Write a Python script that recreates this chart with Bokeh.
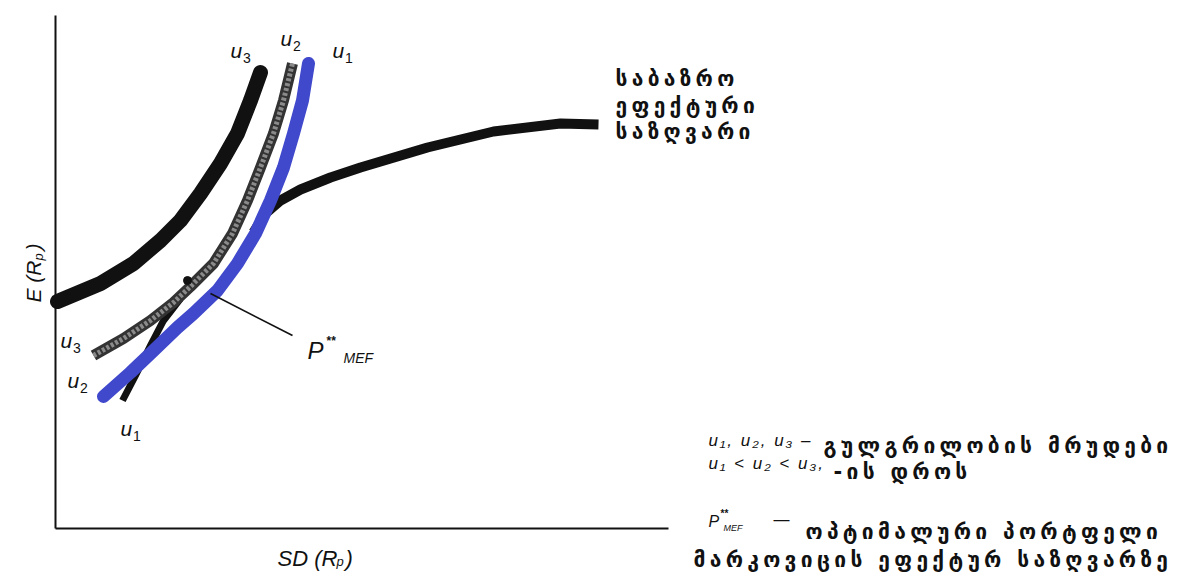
import math
from bokeh.plotting import figure
from bokeh.models import Range1d, InlineStyleSheet
from bokeh.layouts import column
from bokeh.core.properties import value
from bokeh.embed import file_html
from bokeh.resources import INLINE

# Standard deviation (SD) and expected return E of each curve
u3_sd = [0.04, 0.90, 1.56, 2.10, 2.50, 2.90, 3.30, 3.64, 3.90, 4.10]
u3_e = [4.54, 4.90, 5.30, 5.76, 6.16, 6.70, 7.30, 7.90, 8.56, 9.12]

u2_sd = [0.76, 1.36, 1.90, 2.36, 2.70, 3.16, 3.54, 3.84, 4.10, 4.36, 4.56, 4.74]
u2_e = [3.46, 3.80, 4.16, 4.52, 4.84, 5.30, 5.90, 6.56, 7.22, 7.90, 8.56, 9.30]

u1_sd = [0.96, 1.50, 1.90, 2.44, 2.76, 3.24, 3.64, 4.00, 4.30, 4.56, 4.76, 4.94, 5.06]
u1_e = [2.64, 3.12, 3.50, 4.02, 4.30, 4.76, 5.30, 5.90, 6.56, 7.22, 7.90, 8.56, 9.30]

# lower part of the original u1 curve, visible below the highlighted one
u1_tail_sd = [1.34, 1.60, 1.90, 2.16, 2.50]
u1_tail_e = [2.56, 3.06, 3.66, 4.16, 4.60]

# Markowitz efficient frontier
mef_sd = [3.96, 4.20, 4.50, 4.90, 5.50, 6.10, 7.44, 8.76, 10.10, 10.86]
mef_e = [5.92, 6.30, 6.56, 6.78, 7.02, 7.22, 7.62, 7.94, 8.10, 8.08]

# point marked on u2 and the leader line to the P**MEF label
mark_sd, mark_e = [2.64], [4.96]
leader_sd = [3.10, 4.74]
leader_e = [4.70, 3.86]

axis_sd_max = 12.26
axis_e_max = 10.26

frontier_title = ["საბაზრო", "ეფექტური", "საზღვარი"]
legend_lines = ["გულგრილობის მრუდები", "-ის დროს",
                "ოპტიმალური პორტფელი", "მარკოვიცის ეფექტურ საზღვარზე"]

BLUE = "#4048cc"
INK = "#111111"
X_RANGE = Range1d(-1.1, 22.52)
Y_RANGE = Range1d(-0.88, 10.56)


def blank_figure():
    f = figure(width=1181, height=572, output_backend="svg", toolbar_location=None,
               x_range=X_RANGE, y_range=Y_RANGE, min_border=0)
    f.axis.visible = False
    f.grid.visible = False
    f.outline_line_color = None
    return f


def overlay(spacing):
    """Transparent layer stacked on the chart, its texts set with extra tracking."""
    f = blank_figure()
    f.background_fill_alpha = 0
    f.border_fill_alpha = 0
    f.css_classes = ["overlay"]
    f.stylesheets = [InlineStyleSheet(css=(
        ":host { position: absolute !important; left: 0 !important; top: 0 !important;"
        f" letter-spacing: {spacing}px; }}"))]
    return f


def label(f, x, y, s, size, font="Liberation Sans", style="italic", align="left",
          baseline="alphabetic", angle=0.0, color=INK):
    f.text(x=[x], y=[y], text=[s], text_font=value(font), text_font_size=size,
           text_font_style=style, text_align=align, text_baseline=baseline,
           angle=angle, text_color=color)


p = blank_figure()
p.background_fill_color = "white"
p.border_fill_color = "white"

# axes
p.line([0, 0], [0, axis_e_max], line_color=INK, line_width=2)
p.line([0, axis_sd_max], [0, 0], line_color=INK, line_width=2)

# curves
p.line(u3_sd, u3_e, line_color=INK, line_width=15, line_cap="round", line_join="round")
p.line(mef_sd, mef_e, line_color=INK, line_width=10, line_cap="butt", line_join="round")
p.line(u1_tail_sd, u1_tail_e, line_color=INK, line_width=7, line_cap="butt", line_join="round")
p.line(u2_sd, u2_e, line_color="#333333", line_width=11, line_cap="butt", line_join="round")
p.line(u2_sd, u2_e, line_color="#9a9a9a", line_width=5, line_dash="3 2",
       line_cap="butt", line_join="round", line_alpha=0.85)
p.line(u1_sd, u1_e, line_color=BLUE, line_width=13, line_cap="round", line_join="round")
p.scatter(mark_sd, mark_e, size=8, color=INK)
p.line(leader_sd, leader_e, line_color=INK, line_width=1.6)

# curve names with subscripts
for (lx, ly), idx in [
    ((3.50, 9.56), "3"),
    ((4.50, 9.80), "2"),
    ((5.54, 9.56), "1"),
    ((0.10, 3.76), "3"),
    ((0.24, 2.96), "2"),
    ((1.30, 2.00), "1"),
]:
    label(p, lx, ly, "u", "21px")
    label(p, lx + 0.25, ly - 0.15, idx, "14px", style="normal")

# optimal portfolio label
label(p, 5.04, 3.56, "P", "24px")
label(p, 5.42, 3.76, "**", "12px", style="bold")
label(p, 5.76, 3.42, "MEF", "14px")

# axis titles
label(p, 4.44, -0.60, "SD (R", "22px")
label(p, 5.62, -0.66, "p", "13px")
label(p, 5.80, -0.60, ")", "22px")
label(p, -0.44, 4.52, "E (R", "21px", angle=math.pi / 2)
label(p, -0.34, 5.36, "p", "13px", angle=math.pi / 2)
label(p, -0.44, 5.56, ")", "21px", angle=math.pi / 2)

# legend: P**MEF symbol
label(p, 13.06, 0.14, "P", "16px")
label(p, 13.30, 0.30, "**", "10px", style="bold")
label(p, 13.36, 0.02, "MEF", "9px")
label(p, 14.36, 0.18, "—", "16px", style="normal")

# legend: curve symbols, lightly tracked
r = overlay(2)
label(r, 13.06, 1.76, "u₁, u₂, u₃ –", "17px")
label(r, 13.06, 1.30, "u₁ < u₂ < u₃,", "17px")

# Georgian captions, widely tracked
q = overlay(4.3)
for ty, s in zip([9.00, 8.46, 7.94], frontier_title):
    label(q, 11.20, ty, s, "21px", font="DejaVu Sans", style="bold")

label(q, 15.36, 1.66, legend_lines[0], "21px", font="DejaVu Sans", style="bold")
label(q, 15.56, 1.14, legend_lines[1], "21px", font="DejaVu Sans", style="bold")
label(q, 15.00, -0.06, legend_lines[2], "21px", font="DejaVu Sans", style="bold")
label(q, 12.76, -0.62, legend_lines[3], "21px", font="DejaVu Sans", style="bold")

page = column(p, r, q, width=1181, height=572, sizing_mode="fixed",
              stylesheets=[InlineStyleSheet(css=(
                  ":host { position: relative; overflow: hidden; }"
                  " .overlay { position: absolute !important; left: 0 !important;"
                  " top: 0 !important; }"))])

open("out.html", "w").write(file_html(page, INLINE))
